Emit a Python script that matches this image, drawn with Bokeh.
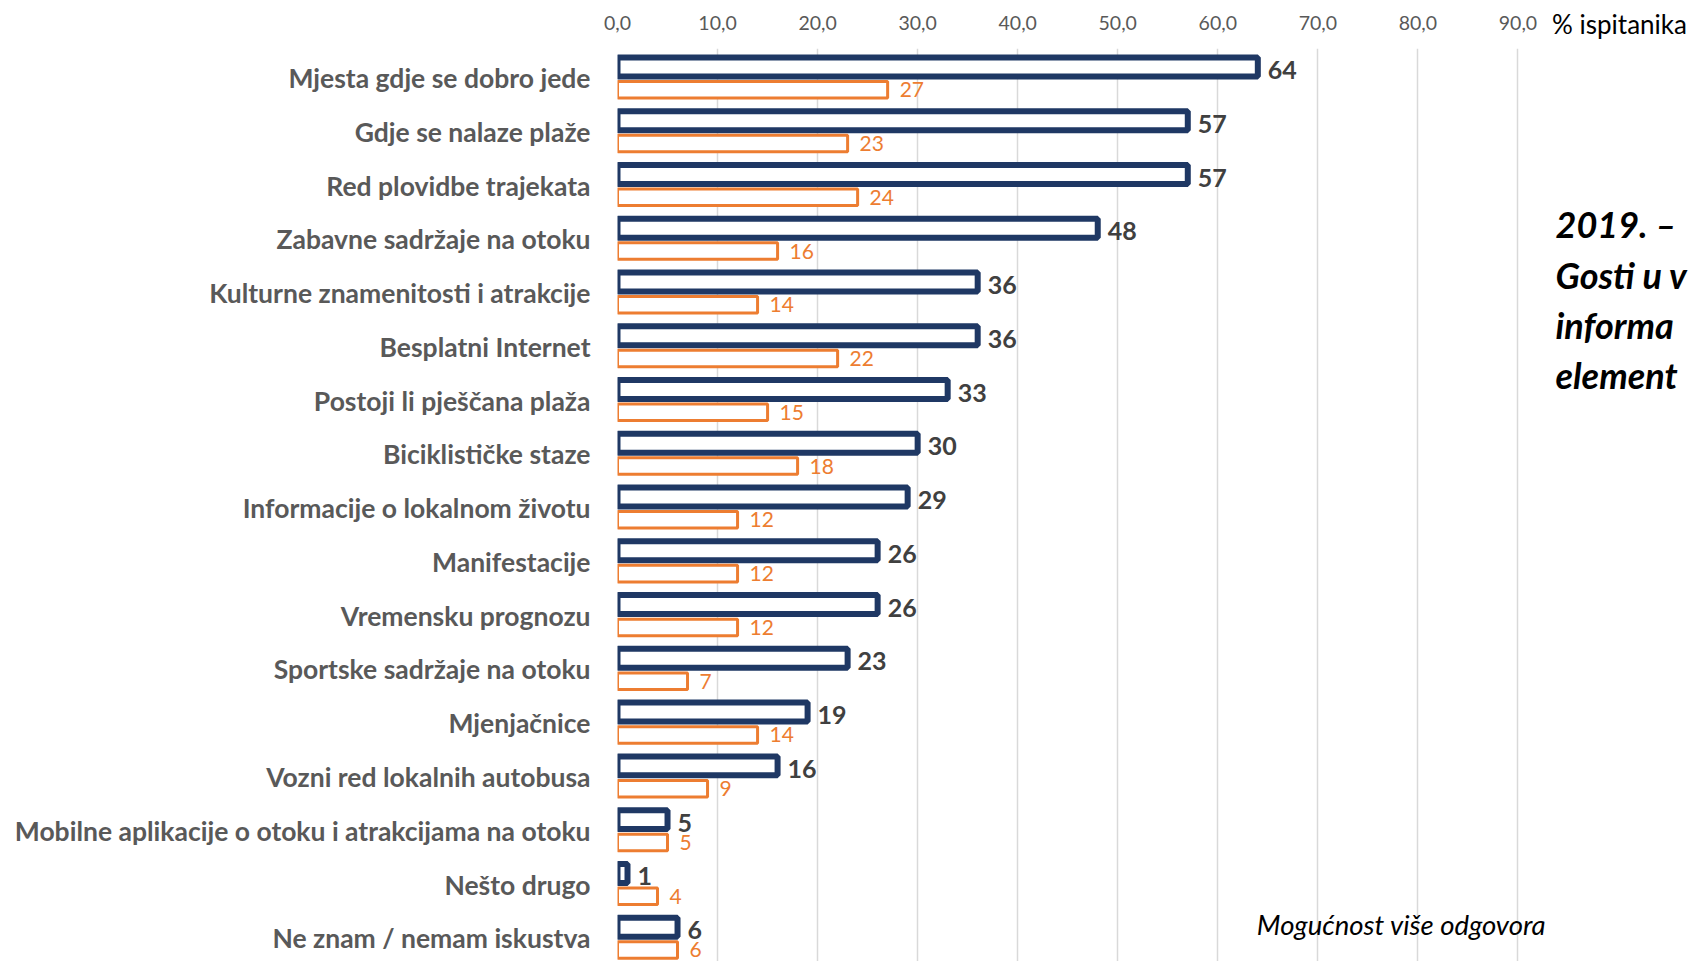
import numpy as np
from bokeh.plotting import figure
from bokeh.models import Range1d, FixedTicker, Label, ColumnDataSource, LinearAxis
from bokeh.transform import dodge
from bokeh.core.properties import value
from bokeh.embed import file_html
from bokeh.resources import INLINE

categories = [
    "Mjesta gdje se dobro jede",
    "Gdje se nalaze plaže",
    "Red plovidbe trajekata",
    "Zabavne sadržaje na otoku",
    "Kulturne znamenitosti i atrakcije",
    "Besplatni Internet",
    "Postoji li pješčana plaža",
    "Biciklističke staze",
    "Informacije o lokalnom životu",
    "Manifestacije",
    "Vremensku prognozu",
    "Sportske sadržaje na otoku",
    "Mjenjačnice",
    "Vozni red lokalnih autobusa",
    "Mobilne aplikacije o otoku i atrakcijama na otoku",
    "Nešto drugo",
    "Ne znam / nemam iskustva",
]
series_navy = [64, 57, 57, 48, 36, 36, 33, 30, 29, 26, 26, 23, 19, 16, 5, 1, 6]
series_orange = [27, 23, 24, 16, 14, 22, 15, 18, 12, 12, 12, 7, 14, 9, 5, 4, 6]
x_ticks = [0, 10, 20, 30, 40, 50, 60, 70, 80, 90]
x_tick_labels = ["0,0", "10,0", "20,0", "30,0", "40,0", "50,0", "60,0", "70,0", "80,0", "90,0"]
axis_title = "% ispitanika"
side_title = ["2019. –", "Gosti u v", "informa", "element"]
footnote = "Mogućnost više odgovora"

NAVY = "#1F3864"
ORANGE = "#ED7D31"
FONT = "Lato"
NAVY_OFF = -0.207
ORANGE_OFF = 0.217

idx = list(range(len(categories)))
src = ColumnDataSource(dict(
    idx=idx,
    navy=series_navy,
    orange=series_orange,
    navy_lbl=[str(v) for v in series_navy],
    orange_lbl=[str(v) for v in series_orange],
))

p = figure(width=1690, height=961, output_backend="svg", toolbar_location=None,
           x_range=Range1d(0, 100.15), y_range=Range1d(16.432, -0.551),
           x_axis_location="above",
           min_border_left=617, min_border_right=67, min_border_top=48, min_border_bottom=0)
p.outline_line_color = None
p.background_fill_color = "white"
p.border_fill_color = "white"

# top axis with its title at the right end
p.xaxis.ticker = FixedTicker(ticks=x_ticks)
p.xaxis.major_label_overrides = {t: l for t, l in zip(x_ticks, x_tick_labels)}
p.xaxis.axis_line_color = None
p.xaxis.major_tick_line_color = None
p.xaxis.minor_tick_line_color = None
p.xaxis.major_label_text_font = FONT
p.xaxis.major_label_text_font_size = "19.5px"
p.xaxis.major_label_text_color = "#595959"
p.xaxis.major_label_standoff = 13
p.xaxis.axis_label = axis_title
p.xaxis.axis_label_align = "end"
p.xaxis.axis_label_standoff = -27
p.xaxis.axis_label_text_font = FONT
p.xaxis.axis_label_text_font_style = "normal"
p.xaxis.axis_label_text_font_size = "26px"
p.xaxis.axis_label_text_color = "black"

# category axis
p.yaxis.ticker = FixedTicker(ticks=idx)
p.yaxis.major_label_overrides = {i: c for i, c in zip(idx, categories)}
p.yaxis.axis_line_color = None
p.yaxis.major_tick_line_color = None
p.yaxis.minor_tick_line_color = None
p.yaxis.major_label_text_font = FONT
p.yaxis.major_label_text_font_style = "bold"
p.yaxis.major_label_text_font_size = "26.5px"
p.yaxis.major_label_text_color = "#595959"
p.yaxis.major_label_standoff = 21

# side title, carried by a right-hand axis so it is not clipped to the frame
side_pos = [2.72 + 0.935 * k for k in range(len(side_title))]
side_axis = LinearAxis(ticker=FixedTicker(ticks=side_pos),
                       major_label_overrides={t: s for t, s in zip(side_pos, side_title)})
side_axis.axis_line_color = None
side_axis.major_tick_line_color = None
side_axis.minor_tick_line_color = None
side_axis.major_label_standoff = -70
side_axis.major_label_text_font = FONT
side_axis.major_label_text_font_style = "bold italic"
side_axis.major_label_text_font_size = "36px"
side_axis.major_label_text_color = "black"
p.add_layout(side_axis, "right")

p.xgrid.grid_line_color = "#D9D9D9"
p.xgrid.grid_line_width = 1.5
p.ygrid.grid_line_color = None

# bars
p.hbar(y=dodge("idx", NAVY_OFF, range=p.y_range), left=0, right="navy", height=0.353,
       fill_color="white", line_color=NAVY, line_width=6, source=src)
p.hbar(y=dodge("idx", ORANGE_OFF, range=p.y_range), left=0, right="orange", height=0.307,
       fill_color="white", line_color=ORANGE, line_width=3, source=src)

# value labels
p.text(x="navy", y=dodge("idx", NAVY_OFF, range=p.y_range), text="navy_lbl", source=src,
       x_offset=10, y_offset=3, text_font=value(FONT), text_font_style="bold",
       text_font_size="25px", text_color="#404040", text_baseline="middle", text_align="left")
p.text(x="orange", y=dodge("idx", ORANGE_OFF, range=p.y_range), text="orange_lbl", source=src,
       x_offset=12, y_offset=0, text_font=value(FONT),
       text_font_size="21px", text_color=ORANGE, text_baseline="middle", text_align="left")

# footnote
p.add_layout(Label(x=63.9, y=15.74, text=footnote, text_font=FONT, text_font_size="27.5px",
                   text_font_style="italic", text_color="black",
                   text_baseline="middle", text_align="left"))

open("out.html", "w").write(file_html(p, INLINE))
